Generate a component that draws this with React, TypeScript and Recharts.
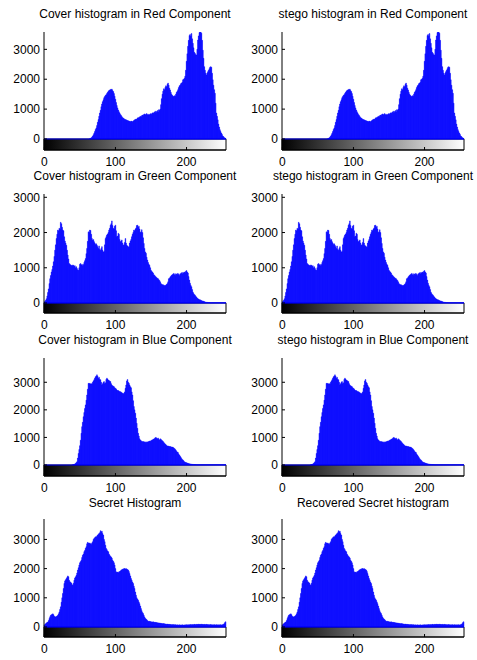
import React from 'react';
import { BarChart, Bar, XAxis, YAxis, ReferenceArea, ReferenceLine } from 'recharts';

const FONT = '"Liberation Sans", Arial, Helvetica, sans-serif';

// gray levels 0..255 (one stem per level, like imhist)
const grayLevels = Array.from({ length: 256 }, (_, i) => i);

const coverRed = [
  0, 0, 0, 0, 0, 0, 0, 0, 0, 0, 0, 0, 0, 0, 0, 0,
  0, 0, 0, 0, 0, 0, 0, 0, 0, 0, 0, 0, 0, 0, 0, 0,
  0, 0, 0, 0, 0, 0, 0, 0, 0, 0, 0, 0, 0, 0, 0, 0,
  0, 0, 0, 0, 0, 0, 0, 0, 0, 0, 0, 0, 0, 0, 0, 0,
  10, 20, 40, 60, 100, 140, 190, 250, 320, 370, 450, 560, 650, 760, 870, 960,
  1080, 1170, 1250, 1310, 1380, 1420, 1460, 1480, 1520, 1560, 1600, 1620, 1640, 1660, 1650, 1670,
  1620, 1590, 1520, 1430, 1330, 1220, 1120, 1040, 970, 910, 870, 820, 790, 750, 720, 700,
  680, 660, 650, 640, 630, 620, 610, 600, 590, 580, 600, 590, 580, 600, 620, 640,
  650, 670, 660, 700, 720, 700, 740, 760, 740, 780, 800, 790, 820, 840, 810, 830,
  850, 820, 800, 830, 810, 840, 850, 830, 870, 880, 860, 900, 930, 880, 920, 950,
  900, 980, 960, 1000, 1150, 1350, 1500, 1600, 1680, 1650, 1720, 1780, 1750, 1830, 1870, 1800,
  1700, 1640, 1560, 1500, 1460, 1430, 1420, 1450, 1430, 1500, 1560, 1600, 1650, 1720, 1780, 1800,
  1850, 1870, 1900, 1980, 2000, 2030, 2100, 2300, 2600, 2850, 3100, 3300, 3460, 3500, 3440, 3530,
  3350, 3200, 3050, 2900, 2860, 2820, 2810, 3000, 3310, 3450, 3560, 3580, 3580, 3540, 3300, 2970,
  2700, 2420, 2300, 2200, 2140, 2200, 2250, 2300, 2350, 2400, 2420, 2400, 2200, 1980, 1800, 1650,
  1530, 1200, 870, 760, 640, 500, 400, 310, 250, 200, 150, 100, 80, 50, 30, 20,
];

const coverGreen = [
  30, 50, 80, 120, 200, 300, 400, 550, 690, 780, 880, 950, 1050, 1170, 1320, 1500,
  1650, 1830, 1950, 2070, 2050, 2120, 2100, 2290, 2250, 2150, 2070, 2050, 1880, 1760, 1700, 1640,
  1500, 1360, 1250, 1120, 1100, 1080, 1070, 1050, 1080, 1070, 1040, 1060, 1000, 1030, 980, 940,
  930, 1000, 1100, 1120, 1080, 1100, 1060, 1090, 1150, 1200, 1260, 1400, 1550, 1750, 2020, 2000,
  2070, 2060, 1950, 1830, 1780, 1800, 1740, 1700, 1660, 1680, 1640, 1600, 1550, 1620, 1520, 1500,
  1550, 1600, 1500, 1450, 1460, 1650, 1830, 1880, 1930, 1960, 2000, 2070, 2120, 2210, 2250, 2330,
  2200, 2120, 2100, 2180, 2210, 2050, 1880, 1900, 1980, 1950, 1800, 1740, 1760, 1790, 1700, 1640,
  1650, 1720, 1830, 1700, 1640, 1620, 1600, 1580, 1700, 1760, 1800, 1880, 1950, 2000, 2070, 2050,
  2100, 2130, 2200, 2210, 2150, 2180, 2100, 2000, 2020, 2080, 2000, 1850, 1690, 1550, 1450, 1410,
  1300, 1220, 1150, 1100, 1070, 1000, 930, 900, 880, 850, 800, 790, 760, 740, 720, 700,
  690, 660, 640, 600, 550, 530, 520, 520, 500, 500, 490, 510, 530, 550, 600, 690,
  700, 740, 760, 790, 800, 820, 840, 800, 830, 780, 820, 840, 800, 830, 780, 820,
  840, 860, 830, 870, 850, 880, 860, 900, 920, 880, 850, 750, 650, 560, 500, 460,
  380, 310, 270, 240, 220, 190, 170, 140, 120, 110, 95, 90, 80, 70, 60, 55,
  50, 40, 30, 25, 20, 20, 15, 15, 15, 10, 10, 10, 10, 10, 10, 10,
  10, 10, 10, 10, 10, 10, 10, 10, 10, 10, 10, 10, 10, 10, 10, 10,
];

const coverBlue = [
  0, 0, 0, 0, 0, 0, 0, 0, 0, 0, 0, 0, 0, 0, 0, 0,
  0, 0, 0, 0, 0, 0, 0, 0, 0, 0, 0, 0, 0, 0, 0, 0,
  0, 0, 0, 0, 0, 0, 0, 0, 10, 15, 20, 40, 60, 90, 120, 250,
  420, 560, 700, 900, 1150, 1390, 1550, 1750, 1900, 2050, 2180, 2350, 2540, 2750, 2960, 2950,
  2960, 2940, 2950, 2940, 3000, 3050, 3090, 3150, 3200, 3230, 3270, 3220, 3150, 3180, 3100, 3090,
  3000, 2900, 2950, 3000, 3025, 2950, 2980, 3100, 3150, 3120, 3080, 3060, 3040, 3025, 2950, 2900,
  2870, 2860, 2840, 2800, 2780, 2760, 2720, 2700, 2700, 2680, 2660, 2660, 2640, 2620, 2600, 2580,
  2600, 2650, 2780, 2900, 3050, 3100, 3000, 2960, 2900, 2840, 2800, 2650, 2540, 2330, 2120, 2000,
  1880, 1700, 1510, 1330, 1150, 1050, 950, 910, 880, 850, 850, 840, 850, 830, 820, 840,
  820, 830, 850, 840, 870, 860, 880, 900, 910, 930, 940, 960, 990, 1000, 970, 950,
  980, 930, 910, 950, 930, 900, 880, 850, 820, 790, 760, 730, 710, 690, 690, 680,
  670, 670, 660, 650, 650, 640, 620, 600, 570, 540, 500, 470, 450, 400, 360, 320,
  280, 240, 200, 180, 150, 120, 100, 90, 85, 70, 60, 50, 45, 40, 35, 30,
  25, 20, 20, 15, 15, 15, 10, 10, 10, 10, 10, 10, 10, 10, 10, 10,
  10, 10, 10, 10, 10, 10, 10, 10, 10, 10, 10, 10, 10, 10, 10, 10,
  10, 10, 10, 10, 10, 10, 10, 10, 10, 10, 10, 10, 10, 10, 10, 10,
];

const secretHist = [
  60, 90, 115, 140, 160, 170, 220, 290, 350, 400, 420, 440, 450, 420, 370, 350,
  345, 360, 380, 400, 450, 515, 600, 690, 850, 1000, 1150, 1320, 1490, 1580, 1620, 1660,
  1700, 1750, 1720, 1600, 1550, 1530, 1510, 1450, 1430, 1500, 1600, 1680, 1720, 1770, 1850, 1950,
  2030, 2120, 2200, 2240, 2290, 2380, 2460, 2500, 2580, 2620, 2700, 2750, 2850, 2900, 2880, 2860,
  2880, 2850, 2830, 2880, 2920, 3000, 3030, 3060, 3090, 3080, 3120, 3150, 3180, 3200, 3230, 3300,
  3260, 3280, 3200, 3150, 3000, 2920, 2800, 2690, 2650, 2600, 2580, 2500, 2460, 2420, 2400, 2360,
  2290, 2250, 2200, 2120, 2000, 1890, 1870, 1880, 1860, 1890, 1900, 1920, 1950, 1960, 1980, 1980,
  2000, 2000, 1990, 2000, 1980, 1970, 1950, 1900, 1830, 1750, 1660, 1600, 1540, 1490, 1400, 1320,
  1200, 1090, 1000, 960, 920, 860, 800, 720, 630, 560, 500, 460, 400, 345, 300, 270,
  250, 220, 195, 190, 195, 185, 180, 175, 170, 180, 165, 160, 160, 155, 150, 145,
  140, 140, 135, 130, 125, 120, 115, 120, 115, 110, 105, 100, 95, 100, 90, 90,
  90, 85, 85, 80, 80, 85, 80, 75, 80, 75, 70, 75, 70, 70, 75, 70,
  70, 70, 75, 70, 65, 70, 75, 70, 80, 75, 70, 80, 75, 80, 85, 80,
  80, 85, 80, 90, 85, 80, 90, 85, 90, 95, 90, 85, 90, 95, 90, 85,
  85, 90, 80, 85, 90, 80, 85, 80, 75, 80, 85, 75, 80, 70, 75, 80,
  75, 70, 80, 75, 70, 75, 70, 80, 75, 70, 75, 80, 90, 115, 150, 180,
];

const yTicks = [0, 1000, 2000, 3000];
const sideTicks = [1000, 2000, 3000];

type PanelProps = {
  id: string;
  title: string;
  values: number[];
  yMax: number;
  boxLeft: number;
  boxTop: number;
  zeroY: number;
  boxBottom: number;
  titleY: number;
};

const PLOT_W = 182;
const AXIS_W = 44;
const TOP_PAD = 4;
const X_AXIS_H = 26;

function HistPanel({ id, title, values, yMax, boxLeft, boxTop, zeroY, boxBottom, titleY }: PanelProps) {
  const mainH = zeroY - boxTop;
  const barH = boxBottom - zeroY;
  // space under zero holds the gray-level strip
  const yMin = -(yMax * barH) / mainH;
  const data = grayLevels.map((g, i) => ({ level: g, count: values[i] }));
  const tickStyle = { fill: '#000', fontSize: 12, fontFamily: FONT };

  return (
    <>
      <div
        style={{
          position: 'absolute',
          left: boxLeft + PLOT_W / 2 - 120,
          width: 240,
          top: titleY - 8,
          lineHeight: '16px',
          textAlign: 'center',
          whiteSpace: 'nowrap',
          fontFamily: FONT,
          fontSize: 12,
          color: '#000',
        }}
      >
        {title}
      </div>
      <div style={{ position: 'absolute', left: boxLeft - AXIS_W, top: boxTop - TOP_PAD }}>
        <BarChart
          width={AXIS_W + PLOT_W + 4}
          height={TOP_PAD + (boxBottom - boxTop) + X_AXIS_H}
          data={data}
          margin={{ top: TOP_PAD, right: 4, bottom: 0, left: 0 }}
          barCategoryGap={0}
          barGap={0}
        >
          <defs>
            <linearGradient id={`gray-${id}`} x1="0" y1="0" x2="1" y2="0">
              <stop offset="0%" stopColor="#000" />
              <stop offset="100%" stopColor="#fff" />
            </linearGradient>
          </defs>
          <XAxis
            dataKey="level"
            interval={99}
            height={X_AXIS_H}
            stroke="#000"
            tickSize={-3}
            tickMargin={10}
            tick={tickStyle}
          />
          <XAxis
            xAxisId="top"
            orientation="top"
            dataKey="level"
            interval={99}
            height={0}
            stroke="#000"
            tickSize={-3}
            tick={false}
          />
          <YAxis
            type="number"
            domain={[yMin, yMax]}
            ticks={yTicks}
            allowDataOverflow
            width={AXIS_W}
            stroke="#000"
            tickSize={-3}
            tickMargin={7}
            tick={tickStyle}
          />
          <YAxis
            yAxisId="right"
            orientation="right"
            type="number"
            domain={[yMin, yMax]}
            ticks={sideTicks}
            allowDataOverflow
            width={0}
            stroke="#000"
            tickSize={-3}
            tick={false}
          />
          <ReferenceArea
            y1={yMin}
            y2={0}
            fill={`url(#gray-${id})`}
            fillOpacity={1}
            stroke="#000"
          />
          <Bar
            dataKey="count"
            fill="#0000ff"
            stroke="#0000ff"
            strokeWidth={0.4}
            isAnimationActive={false}
          />
          <ReferenceLine y={0} stroke="#0000ff" />
        </BarChart>
      </div>
    </>
  );
}

// stego / recovered histograms are visually the same as the cover / secret ones
const panels: PanelProps[] = [
  { id: 'r1', title: 'Cover histogram in Red Component', values: coverRed, yMax: 3580, boxLeft: 44, boxTop: 32, zeroY: 139, boxBottom: 150, titleY: 14 },
  { id: 'r2', title: 'stego histogram in Red Component', values: coverRed, yMax: 3580, boxLeft: 282, boxTop: 32, zeroY: 139, boxBottom: 150, titleY: 14 },
  { id: 'g1', title: 'Cover histogram in Green Component', values: coverGreen, yMax: 3094, boxLeft: 44, boxTop: 194, zeroY: 303, boxBottom: 313, titleY: 175.5 },
  { id: 'g2', title: 'stego histogram in Green Component', values: coverGreen, yMax: 3094, boxLeft: 282, boxTop: 194, zeroY: 303, boxBottom: 313, titleY: 175.5 },
  { id: 'b1', title: 'Cover histogram in Blue Component', values: coverBlue, yMax: 3880, boxLeft: 44, boxTop: 358, zeroY: 465, boxBottom: 476, titleY: 339.5 },
  { id: 'b2', title: 'stego histogram in Blue Component', values: coverBlue, yMax: 3880, boxLeft: 282, boxTop: 358, zeroY: 465, boxBottom: 476, titleY: 339.5 },
  { id: 's1', title: 'Secret Histogram', values: secretHist, yMax: 3700, boxLeft: 44, boxTop: 519, zeroY: 627, boxBottom: 637, titleY: 502.5 },
  { id: 's2', title: 'Recovered Secret histogram', values: secretHist, yMax: 3700, boxLeft: 282, boxTop: 519, zeroY: 627, boxBottom: 637, titleY: 502.5 },
];

export default function App() {
  return (
    <div
      style={{
        position: 'absolute',
        left: 0,
        top: 0,
        width: 477,
        height: 660,
        background: '#fff',
        overflow: 'hidden',
      }}
    >
      {panels.map((p) => (
        <HistPanel key={p.id} {...p} />
      ))}
    </div>
  );
}
